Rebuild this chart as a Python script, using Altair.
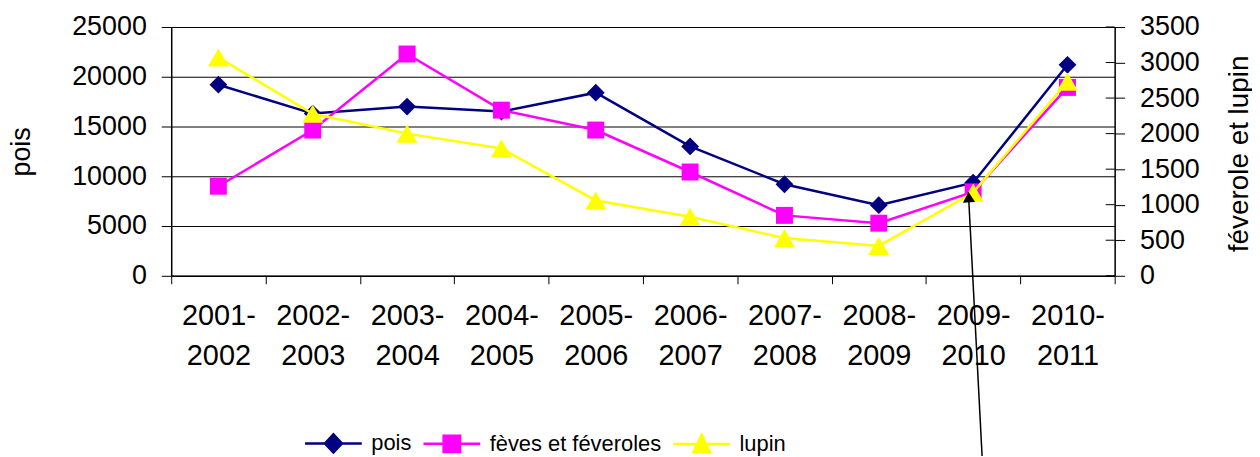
import altair as alt
import pandas as pd

years = ["2001-2002", "2002-2003", "2003-2004", "2004-2005", "2005-2006",
         "2006-2007", "2007-2008", "2008-2009", "2009-2010", "2010-2011"]
pois = [19200, 16300, 17000, 16500, 18400, 13000, 9200, 7100, 9350, 21200]
feves = [1260, 2050, 3120, 2330, 2050, 1460, 850, 740, 1180, 2650]
lupin = [3070, 2280, 2000, 1790, 1060, 830, 530, 420, 1170, 2730]

left_ticks = [0, 5000, 10000, 15000, 20000, 25000]
right_ticks = [0, 500, 1000, 1500, 2000, 2500, 3000, 3500]

series_names = ["pois", "fèves et féveroles", "lupin"]
series_colors = ["#000080", "#FF00FF", "#FFFF00"]
legend_paths = [
    "M-1,0L1,0M0,-0.32L0.3,0L0,0.32L-0.3,0Z",
    "M-1,0L1,0M-0.29,-0.29L0.29,-0.29L0.29,0.29L-0.29,0.29Z",
    "M-1,0L1,0M0,-0.32L0.29,0.28L-0.29,0.28Z",
]

FONT = "Liberation Sans"
W, H = 948, 250

df = pd.DataFrame({"annee": years, "pois": pois, "feves": feves, "lupin": lupin})

x_enc = alt.X(
    "annee:N",
    sort=years,
    scale=alt.Scale(paddingInner=0, paddingOuter=0),
    axis=alt.Axis(
        title=None, tickBand="extent", labelAngle=0,
        labelExpr="[slice(datum.label,0,5), slice(datum.label,5)]",
        labelFont=FONT, labelFontSize=29, labelLineHeight=40, labelColor="black",
        labelPadding=18, tickSize=8, tickColor="black", domainColor="black",
        domainWidth=1.5, grid=False, labelBaseline="top",
    ),
)

base = alt.Chart(df)

y_left = alt.Y(
    "pois:Q",
    scale=alt.Scale(domain=[0, 25000], nice=False),
    axis=alt.Axis(
        title="pois", values=left_ticks, format="d",
        grid=True, gridColor="black", gridWidth=1, gridOpacity=1,
        labelFont=FONT, labelFontSize=27, labelColor="black", labelPadding=15,
        tickSize=10, tickColor="black", domainColor="black", domainWidth=1.5,
        titleFont=FONT, titleFontSize=27, titleFontWeight="normal", titleColor="black",
        titleX=-136, titleY=125, titleAngle=270, titleBaseline="bottom", titleAlign="center",
    ),
)

left = alt.layer(
    base.mark_line(color=series_colors[0], strokeWidth=2.5).encode(x=x_enc, y=y_left),
    base.mark_point(shape="diamond", filled=True, opacity=1, size=320,
                    color=series_colors[0]).encode(x=x_enc, y=y_left),
)

right_axis = alt.Axis(
    title="féverole et lupin", orient="right",
    values=right_ticks, format="d",
    grid=False,
    labelFont=FONT, labelFontSize=27, labelColor="black", labelPadding=15,
    tickSize=10, tickColor="black", domainColor="black", domainWidth=1.5,
    titleFont=FONT, titleFontSize=28, titleFontWeight="normal", titleColor="black",
    titleX=139, titleY=127, titleAngle=270, titleBaseline="bottom", titleAlign="center",
)
right_scale = alt.Scale(domain=[0, 3500], nice=False)

inner_ticks = alt.Chart(pd.DataFrame({"t": right_ticks})).mark_rule(
    color="black", strokeWidth=1
).encode(
    y=alt.Y("t:Q", scale=right_scale, axis=right_axis),
    x=alt.value(W - 9), x2=alt.value(W),
)

right = alt.layer(
    base.mark_line(color=series_colors[1], strokeWidth=2.5).encode(
        x=x_enc, y=alt.Y("feves:Q", scale=right_scale, axis=right_axis)),
    base.mark_point(shape="square", filled=True, opacity=1, size=290,
                    color=series_colors[1]).encode(
        x=x_enc, y=alt.Y("feves:Q", scale=right_scale, axis=right_axis)),
    base.mark_line(color=series_colors[2], strokeWidth=2.5).encode(
        x=x_enc, y=alt.Y("lupin:Q", scale=right_scale, axis=right_axis)),
    base.mark_point(shape="triangle-up", filled=True, opacity=1, size=440,
                    color=series_colors[2]).encode(
        x=x_enc, y=alt.Y("lupin:Q", scale=right_scale, axis=right_axis)),
    inner_ticks,
)

leg_df = pd.DataFrame({"serie": series_names})
leg = alt.Legend(
    title=None, orient="none", legendX=133, legendY=388, direction="horizontal",
    columns=3, labelFont=FONT, labelFontSize=22, labelColor="black", labelOffset=8,
    columnPadding=6, padding=0, symbolSize=3249, symbolStrokeWidth=2.5,
    labelLimit=400,
)
legend_layer = alt.Chart(leg_df).transform_filter("false").mark_point(
    filled=True, strokeWidth=2.5, opacity=1, size=3249
).encode(
    fill=alt.Fill("serie:N", sort=series_names,
                  scale=alt.Scale(domain=series_names, range=series_colors), legend=leg),
    stroke=alt.Stroke("serie:N", sort=series_names,
                      scale=alt.Scale(domain=series_names, range=series_colors), legend=leg),
    shape=alt.Shape("serie:N", sort=series_names,
                    scale=alt.Scale(domain=series_names, range=legend_paths), legend=leg),
)

ann = alt.Chart(pd.DataFrame({"a": [0]}))
arrow_line = ann.mark_rule(color="black", strokeWidth=1.5).encode(
    x=alt.value(801), y=alt.value(166), x2=alt.value(815), y2=alt.value(435))
arrow_head = ann.mark_point(shape="triangle-up", filled=True, color="black",
                            opacity=1, size=150, angle=357).encode(
    x=alt.value(801.4), y=alt.value(171))

chart = alt.layer(left, right, legend_layer, arrow_line, arrow_head).resolve_scale(
    y="independent"
).properties(
    width=W, height=H,
    autosize=alt.AutoSizeParams(type="none"),
    padding={"left": 164, "top": 18, "right": 138, "bottom": 180},
).configure_view(
    fill="#C0C0C0", stroke="#808080", strokeWidth=2
).configure(font=FONT, background="white")

chart.save("out.html", embed_options={"renderer": "svg", "actions": False})
